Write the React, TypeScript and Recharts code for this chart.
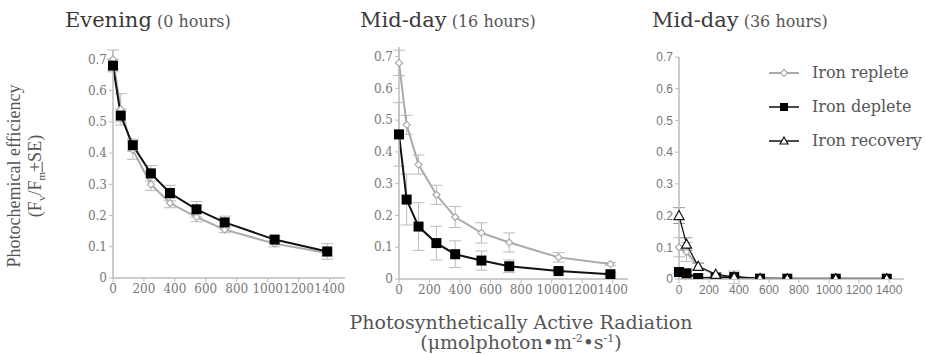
import React from "react";
import { ErrorBar, Line, LineChart, XAxis, YAxis } from "recharts";

const par = [0, 50, 128, 245, 368, 540, 722, 1045, 1385];
const xTicks = [0, 200, 400, 600, 800, 1000, 1200, 1400];
const yTicks = [0, 0.1, 0.2, 0.3, 0.4, 0.5, 0.6, 0.7];

// Evening (0 hours)
const eveReplete = [0.7, 0.54, 0.41, 0.3, 0.24, 0.195, 0.155, 0.11, 0.08];
const eveRepleteErr = [0.03, 0.05, 0.03, 0.02, 0.015, 0.015, 0.01, 0.01, 0.01];
const eveDeplete = [0.68, 0.52, 0.425, 0.335, 0.272, 0.22, 0.178, 0.123, 0.085];
const eveDepleteErr = [0.02, 0.02, 0.02, 0.025, 0.025, 0.025, 0.02, 0.01, 0.025];

// Mid-day (16 hours)
const mid16Replete = [0.68, 0.485, 0.36, 0.265, 0.195, 0.145, 0.115, 0.068, 0.047];
const mid16RepleteErr = [0.04, 0.03, 0.03, 0.03, 0.033, 0.032, 0.03, 0.015, 0.005];
const mid16Deplete = [0.455, 0.25, 0.165, 0.113, 0.078, 0.058, 0.04, 0.025, 0.015];
const mid16DepleteErr = [0.1, 0.08, 0.075, 0.053, 0.042, 0.03, 0.02, 0.005, 0.005];

// Mid-day (36 hours)
const mid36Replete = [0.1, 0.085, 0.04, 0.012, 0.005, 0.002, 0.001, 0.001, 0.001];
const mid36RepleteErr = [0.03, 0.03, 0.01, 0.005, 0.02, 0.002, 0, 0, 0];
const mid36Deplete = [0.022, 0.018, 0.003, 0.004, 0.006, 0.001, 0.001, 0.001, 0.001];
const mid36DepleteErr = [0.005, 0.005, 0.002, 0.002, 0.002, 0, 0, 0, 0];
const mid36Recovery = [0.2, 0.11, 0.04, 0.015, 0.006, 0.002, 0.001, 0.001, 0.001];
const mid36RecoveryErr = [0.025, 0.02, 0.01, 0.005, 0.005, 0.002, 0, 0, 0];

const wideSerif = "'DejaVu Serif', serif";
const serif = "'Liberation Serif', serif";
const sans = "'Liberation Sans', sans-serif";
const gray = "#555";

type Row = Record<string, number>;

function buildRows(series: Record<string, number[]>): Row[] {
  return par.map((x, i) => {
    const row: Row = { x };
    Object.keys(series).forEach((k) => {
      row[k] = series[k][i];
    });
    return row;
  });
}

const Diamond = (props: any) => {
  const { cx, cy } = props;
  if (cx == null || cy == null) return null;
  return <path d={`M${cx},${cy - 3.5}L${cx + 3.5},${cy}L${cx},${cy + 3.5}L${cx - 3.5},${cy}Z`} fill="#fff" stroke="#aaa" strokeWidth={1.2} />;
};

const Square = (props: any) => {
  const { cx, cy } = props;
  if (cx == null || cy == null) return null;
  return <rect x={cx - 5} y={cy - 5} width={10} height={10} fill="#000" />;
};

const Triangle = (props: any) => {
  const { cx, cy } = props;
  if (cx == null || cy == null) return null;
  return <path d={`M${cx},${cy - 5}L${cx + 5},${cy + 4}L${cx - 5},${cy + 4}Z`} fill="#fff" stroke="#111" strokeWidth={1.2} />;
};

type PanelProps = {
  left: number;
  top: number;
  width: number;
  height: number;
  right: number;
  yMax: number;
  tick: Record<string, any>;
  rows: Row[];
  recovery?: boolean;
};

function Panel({ left, top, width, height, right, yMax, tick, rows, recovery }: PanelProps) {
  return (
    <div style={{ position: "absolute", left, top }}>
      <LineChart width={width} height={height} data={rows} margin={{ top: 10, right, left: 4, bottom: 17 }}>
        <XAxis
          dataKey="x"
          type="number"
          domain={[0, 1500]}
          ticks={xTicks}
          interval={0}
          tick={tick}
          tickLine={{ stroke: "#bbb" }}
          axisLine={{ stroke: "#bbb", strokeWidth: 1.5 }}
          tickSize={4}
          height={25}
        />
        <YAxis
          type="number"
          domain={[0, yMax]}
          ticks={yTicks}
          interval={0}
          tick={tick}
          tickLine={{ stroke: "#bbb" }}
          axisLine={{ stroke: "#bbb", strokeWidth: 1.5 }}
          tickSize={4}
          width={45}
          allowDataOverflow
        />
        <Line dataKey="replete" stroke="#aaa" strokeWidth={2} dot={<Diamond />} isAnimationActive={false}>
          <ErrorBar dataKey="repleteErr" direction="y" width={6} stroke="#bbb" strokeWidth={1} />
        </Line>
        <Line dataKey="deplete" stroke="#111" strokeWidth={2} dot={<Square />} isAnimationActive={false}>
          <ErrorBar dataKey="depleteErr" direction="y" width={6} stroke="#bbb" strokeWidth={1} />
        </Line>
        {recovery && (
          <Line dataKey="recovery" stroke="#111" strokeWidth={1.3} dot={<Triangle />} isAnimationActive={false}>
            <ErrorBar dataKey="recoveryErr" direction="y" width={6} stroke="#999" strokeWidth={1} />
          </Line>
        )}
      </LineChart>
    </div>
  );
}

function Title({ left, main, sub }: { left: number; main: string; sub: string }) {
  return (
    <div style={{ position: "absolute", left, top: 8, fontFamily: wideSerif, whiteSpace: "nowrap" }}>
      <span style={{ fontSize: 21, color: "#3a3a3a" }}>{main}</span>{" "}
      <span style={{ fontSize: 16, color: "#555" }}>{sub}</span>
    </div>
  );
}

const legendItems = [
  { label: "Iron replete", marker: "diamond" },
  { label: "Iron deplete", marker: "square" },
  { label: "Iron recovery", marker: "triangle" },
];

function LegendIcon({ marker }: { marker: string }) {
  return (
    <svg width={32} height={12} style={{ verticalAlign: "middle" }}>
      <line x1={1} y1={6} x2={31} y2={6} stroke={marker === "diamond" ? "#aaa" : "#111"} strokeWidth={marker === "diamond" ? 2 : 1.5} />
      {marker === "diamond" && <Diamond cx={16} cy={6} />}
      {marker === "square" && <rect x={12} y={2} width={8} height={8} fill="#000" />}
      {marker === "triangle" && <path d="M16,2L20,9L12,9Z" fill="#fff" stroke="#111" strokeWidth={1.2} />}
    </svg>
  );
}

export default function App() {
  const eveRows = buildRows({ replete: eveReplete, repleteErr: eveRepleteErr, deplete: eveDeplete, depleteErr: eveDepleteErr });
  const mid16Rows = buildRows({ replete: mid16Replete, repleteErr: mid16RepleteErr, deplete: mid16Deplete, depleteErr: mid16DepleteErr });
  const mid36Rows = buildRows({
    replete: mid36Replete,
    repleteErr: mid36RepleteErr,
    deplete: mid36Deplete,
    depleteErr: mid36DepleteErr,
    recovery: mid36Recovery,
    recoveryErr: mid36RecoveryErr,
  });

  const serifTick = { fontSize: 12, fill: "#777", fontFamily: wideSerif };
  const sansTick = { fontSize: 12, fill: "#777", fontFamily: sans };

  return (
    <div style={{ position: "absolute", left: 0, top: 0, width: 925, height: 355, background: "#fff", overflow: "hidden" }}>
      <Title left={65} main="Evening" sub="(0 hours)" />
      <Title left={360} main="Mid-day" sub="(16 hours)" />
      <Title left={652} main="Mid-day" sub="(36 hours)" />

      <Panel left={64} top={40} width={296} height={280} right={15} yMax={0.73} tick={serifTick} rows={eveRows} />
      <Panel left={350} top={37} width={290} height={284} right={12} yMax={0.73} tick={serifTick} rows={mid16Rows} />
      <Panel left={630} top={47} width={290} height={274} right={16} yMax={0.7} tick={sansTick} rows={mid36Rows} recovery />

      <div style={{ position: "absolute", left: 768, top: 62, fontFamily: wideSerif, fontSize: 16, color: gray }}>
        {legendItems.map((it) => (
          <div key={it.label} style={{ height: 34, whiteSpace: "nowrap" }}>
            <LegendIcon marker={it.marker} />
            <span style={{ marginLeft: 12, verticalAlign: "middle" }}>{it.label}</span>
          </div>
        ))}
      </div>

      <div
        style={{
          position: "absolute",
          left: 28,
          top: 176,
          transform: "translate(-50%, -50%) rotate(-90deg)",
          fontFamily: serif,
          fontSize: 18,
          color: gray,
          textAlign: "center",
          whiteSpace: "nowrap",
          lineHeight: "21px",
        }}
      >
        <div>Photochemical efficiency</div>
        <div>
          (F<sub style={{ fontSize: 11 }}>v</sub>/F<sub style={{ fontSize: 11 }}>m</sub>
          <span style={{ textDecoration: "underline" }}>+</span>SE)
        </div>
      </div>

      <div
        style={{
          position: "absolute",
          left: 521,
          top: 312,
          transform: "translateX(-50%)",
          fontFamily: wideSerif,
          fontSize: 19,
          color: gray,
          textAlign: "center",
          whiteSpace: "nowrap",
          lineHeight: "20px",
        }}
      >
        <div>Photosynthetically Active Radiation</div>
        <div style={{ height: 20 }}>
          (μmolphoton•m<sup style={{ fontSize: 11, lineHeight: 0 }}>-2</sup>•s<sup style={{ fontSize: 11, lineHeight: 0 }}>-1</sup>)
        </div>
      </div>
    </div>
  );
}
